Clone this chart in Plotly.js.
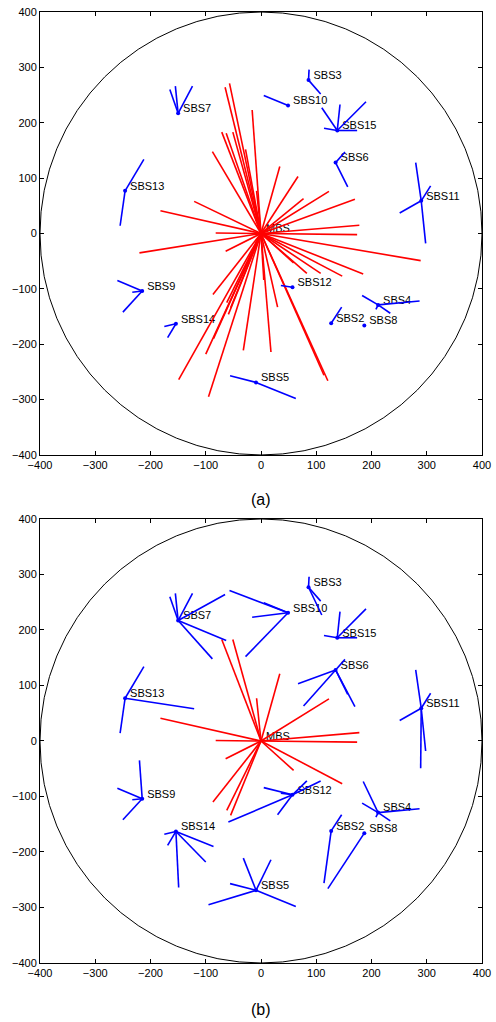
<!DOCTYPE html>
<html>
<head>
<meta charset="utf-8">
<script src="https://cdn.plot.ly/plotly-3.0.1.min.js"></script>
<style>
  html, body { margin: 0; padding: 0; background: #fff; }
  #chart { width: 496px; height: 1022px; }
</style>
</head>
<body>
<div id="chart"></div>
<script>
// Base stations
const bsName = ['MBS','SBS2','SBS3','SBS4','SBS5','SBS6','SBS7','SBS8','SBS9','SBS10','SBS11','SBS12','SBS13','SBS14','SBS15'];
const bsX    = [0, 127, 86, 212, -9, 135, -150, 187, -215, 49, 290, 57, -246, -154, 138];
const bsY    = [0, -162, 277, -129, -269, 128, 217, -166, -104, 231, 59, -97, 77, -163, 186];

// Users (line end points)
const userX = [-165,-155,-124,-65,-57,-16,-71,-63,-51,-28,-88,-121,-182,-82,-8,34,67,77,123,170,178,174,-220,-64,-87,-62,-55,-59,-100,-86,-149,-95,-32,18,30,5,59,83,108,147,185,289,121,114,-212,-255,87,108,5,110,143,190,114,174,152,157,280,307,251,298,-260,-250,-233,-175,-169,36,183,234,287,208,146,63,-56];
const userY = [260,266,266,264,271,223,183,181,183,152,148,58,41,1,77,121,103,63,76,62,15,-2,-35,-32,-110,-125,-134,-146,-218,-190,-264,-295,-211,-214,-133,-84,-53,-72,-72,-77,-73,-49,-266,-256,134,14,296,252,249,227,233,238,190,186,147,84,128,86,37,-18,-85,-142,-106,-168,-188,-94,-112,-144,-122,-137,-133,-298,-257];

// Association in (a) and (b)
const ownerA = ['SBS7','SBS7','SBS7','MBS','MBS','MBS','MBS','MBS','MBS','MBS','MBS','MBS','MBS','MBS','MBS','MBS','MBS','MBS','MBS','MBS','MBS','MBS','MBS','MBS','MBS','MBS','MBS','MBS','MBS','MBS','MBS','MBS','MBS','MBS','MBS','MBS','MBS','MBS','MBS','MBS','MBS','MBS','MBS','MBS','SBS13','SBS13','SBS3','SBS3','SBS10','SBS15','SBS15','SBS15','SBS15','SBS15','SBS6','SBS6','SBS11','SBS11','SBS11','SBS11','SBS9','SBS9','SBS9','SBS14','SBS14','SBS12','SBS4','SBS4','SBS4','SBS4','SBS2','SBS5','SBS5'];
const ownerB = ['SBS7','SBS7','SBS7','SBS7','SBS10','SBS10','MBS','SBS7','MBS','SBS10','SBS7','SBS13','MBS','MBS','MBS','MBS','SBS6','SBS6','MBS','SBS6','MBS','MBS','SBS9','MBS','MBS','MBS','MBS','SBS12','SBS14','SBS14','SBS14','SBS5','SBS5','SBS5','SBS12','SBS12','MBS','SBS12','SBS12','MBS','SBS4','SBS11','SBS8','SBS2','SBS13','SBS13','SBS3','SBS3','SBS10','SBS3','SBS15','SBS15','SBS15','SBS15','SBS6','SBS6','SBS11','SBS11','SBS11','SBS11','SBS9','SBS9','SBS9','SBS14','SBS14','SBS12','SBS4','SBS4','SBS4','SBS4','SBS2','SBS5','SBS5'];

const panelLabels = ['(a)', '(b)'];

const RED = '#ff0000', BLUE = '#0000ff';
const FONT = 'Liberation Sans, Arial, sans-serif';
const LABEL_DX = 9, LABEL_DY = 7; // label offset from station (axis units)

function buildTraces(owner, xa, ya) {
  const red = {x: [], y: []}, blue = {x: [], y: []};
  for (let i = 0; i < userX.length; i++) {
    const k = bsName.indexOf(owner[i]);
    const t = k === 0 ? red : blue;
    t.x.push(bsX[k], userX[i], null);
    t.y.push(bsY[k], userY[i], null);
  }
  return [
    // labels first, so lines are drawn over them (as in the original)
    {type: 'scatter', mode: 'text', x: bsX.map(v => v + LABEL_DX), y: bsY.map(v => v + LABEL_DY),
     text: bsName, textposition: 'middle right', xaxis: xa, yaxis: ya,
     textfont: {family: FONT, size: 11, color: '#000'}, hoverinfo: 'skip', showlegend: false, cliponaxis: false},
    {type: 'scatter', mode: 'lines', x: red.x, y: red.y, xaxis: xa, yaxis: ya,
     line: {color: RED, width: 1.6}, hoverinfo: 'skip', showlegend: false, connectgaps: false},
    {type: 'scatter', mode: 'lines', x: blue.x, y: blue.y, xaxis: xa, yaxis: ya,
     line: {color: BLUE, width: 1.6}, hoverinfo: 'skip', showlegend: false, connectgaps: false},
    {type: 'scatter', mode: 'markers', x: bsX.slice(1), y: bsY.slice(1), xaxis: xa, yaxis: ya,
     marker: {color: BLUE, size: 4}, hoverinfo: 'skip', showlegend: false}
  ];
}

const data = [].concat(buildTraces(ownerA, 'x', 'y'), buildTraces(ownerB, 'x2', 'y2'));

function axis(domain, anchor) {
  return {
    domain: domain, anchor: anchor, range: [-400, 400], autorange: false,
    dtick: 100, tick0: 0, ticks: 'inside', ticklen: 4, tickwidth: 1, tickcolor: '#000',
    showline: true, linecolor: '#000', linewidth: 1, mirror: 'ticks',
    showgrid: false, zeroline: false,
    tickfont: {family: FONT, size: 11, color: '#000'}
  };
}

const annotations = [
  {xref: 'paper', yref: 'paper', x: 0.5, y: 0.4869, text: panelLabels[0], showarrow: false,
   xanchor: 'center', yanchor: 'middle', font: {family: FONT, size: 16, color: '#000'}},
  {xref: 'paper', yref: 'paper', x: 0.5, y: -0.0494, text: panelLabels[1], showarrow: false,
   xanchor: 'center', yanchor: 'middle', font: {family: FONT, size: 16, color: '#000'}}
];

const circle = (xa, ya) => ({type: 'circle', xref: xa, yref: ya, x0: -400, y0: -400, x1: 400, y1: 400,
  line: {color: '#000', width: 1}, layer: 'below'});

const layout = {
  width: 496, height: 1022,
  margin: {l: 40, r: 14, t: 12, b: 59},
  paper_bgcolor: '#fff', plot_bgcolor: '#fff',
  showlegend: false,
  xaxis: axis([0, 1], 'y'),
  yaxis: axis([0.5342, 1], 'x'),
  xaxis2: axis([0, 1], 'y2'),
  yaxis2: axis([0, 0.4669], 'x2'),
  shapes: [circle('x', 'y'), circle('x2', 'y2')],
  annotations: annotations,
  font: {family: FONT, size: 11, color: '#000'}
};

Plotly.newPlot('chart', data, layout, {staticPlot: true, displayModeBar: false});
</script>
</body>
</html>
